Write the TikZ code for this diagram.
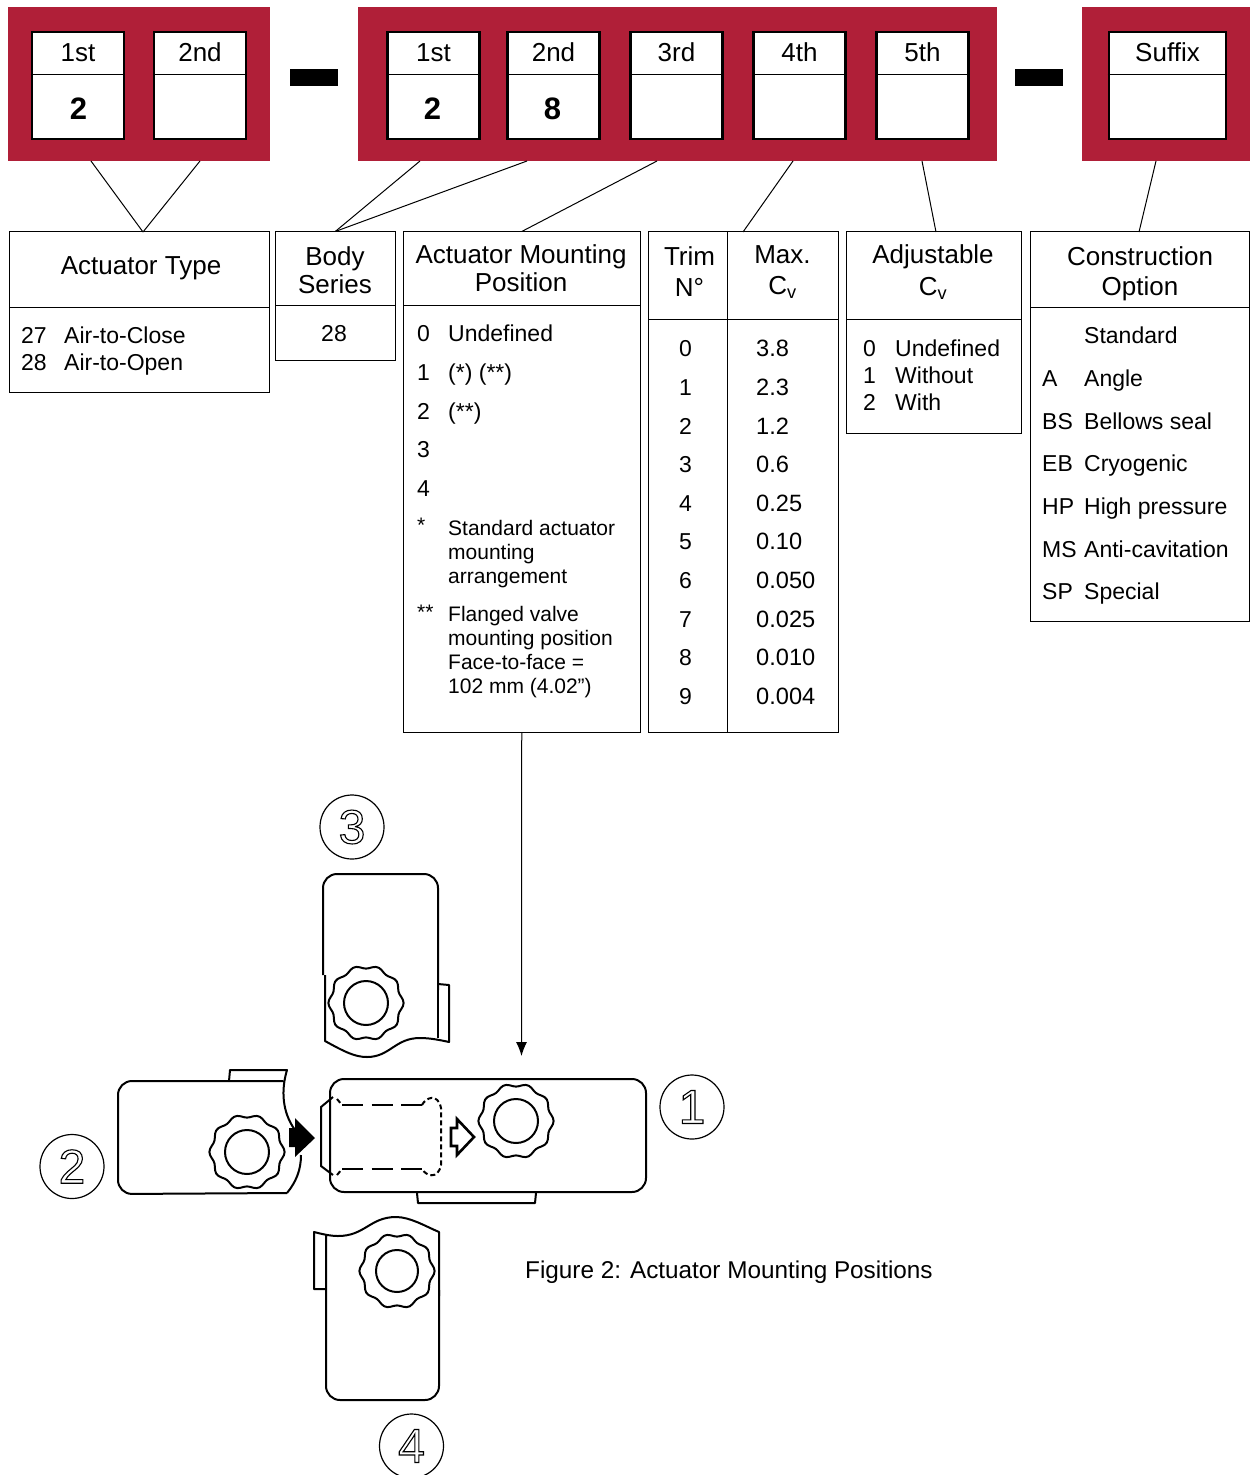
\documentclass[tikz,border=0pt]{standalone}
\usepackage{fontspec}
\setmainfont{Liberation Sans}
\usepackage{tikz}
\usetikzlibrary{arrows.meta,calc}
\definecolor{bandred}{HTML}{B01F38}
\tikzset{
    band/.style={
        fill=bandred,
        anchor=north west,
        inner sep=0pt,
        outer sep=0pt
    },
    hyphenbar/.style={
        fill=black,
        minimum width=48pt,
        minimum height=17pt,
        inner sep=0pt
    },
    digitcell/.style={
        draw,
        line width=2.8pt,
        fill=white,
        minimum height=107pt,
        inner sep=0pt
    },
    tablebox/.style={
        draw,
        line width=1pt,
        anchor=north west,
        inner sep=0pt,
        outer sep=0pt
    },
    celltext/.style={font=\fontsize{26}{30}\selectfont, inner sep=0pt, anchor=base},
    digittext/.style={font=\fontsize{31}{34}\bfseries\selectfont, inner sep=0pt, anchor=base},
    title/.style={font=\fontsize{26}{28}\selectfont, inner sep=0pt, align=center},
    rowtext/.style={font=\fontsize{23}{26}\selectfont, inner sep=0pt, anchor=base west},
    numtext/.style={font=\fontsize{23.6}{26}\selectfont, inner sep=0pt, anchor=base west},
    note/.style={font=\fontsize{21}{24}\selectfont, inner sep=0pt, anchor=north west, align=left},
    link/.style={line width=1pt},
    feed/.style={line width=1pt, -{Latex[length=14pt,width=11pt]}},
    outline/.style={line width=2pt, line join=round},
    hiddenedge/.style={line width=2pt, dash pattern=on 21pt off 8.5pt},
    callout/.style={draw, circle, line width=1.2pt, minimum size=64pt, inner sep=0pt}
}
\newcommand{\hollow}[1]{\special{pdf:code q 1 Tr 1.1 w}#1\special{pdf:code Q}}
\newcommand{\knob}[3]{
    \draw[outline, shift={(#1,#2)}] plot[domain=0:355, samples=72, smooth cycle] (\x:{36+1.6*cos(10*\x)});
    \draw[outline, shift={(#1,#2)}] (0,0) circle[radius=#3];
}
\begin{document}
\begin{tikzpicture}[x=1pt,y=-1pt]
    \useasboundingbox (0,0) rectangle (1250,1475);

    \node[band, minimum width=262pt, minimum height=154pt] (bandtype) at (8,7) {};
    \node[band, minimum width=639pt, minimum height=154pt] (bandseries) at (358,7) {};
    \node[band, minimum width=168pt, minimum height=154pt] (bandsuffix) at (1082,7) {};
    \node[hyphenbar] (dashone) at (314,77.5) {};
    \node[hyphenbar] (dashtwo) at (1039,77.5) {};

    \foreach \cname/\cx/\cw/\chead/\cval/\vx in {
        ta/78/92/1st/2/78.5, tb/200/92/2nd//200,
        sa/433.5/92/1st/2/432.5, sb/553.5/92/2nd/8/552.5, sc/676.5/92/3rd//676, sd/799.5/92/4th//800, se/922.5/92/5th//923,
        fa/1167.5/117/Suffix//1167} {
        \node[digitcell, minimum width=\cw pt] (\cname) at (\cx,85.5) {};
        \draw[line width=1pt] ([yshift=-44pt]\cname.north west) -- ([yshift=-44pt]\cname.north east);
        \node[celltext] (\cname head) at (\cx,61) {\chead};
        \node[digittext] (\cname val) at (\vx,119) {\cval};
    }

    % tables
    \node[tablebox, minimum width=259.5pt, minimum height=161pt] (acttype) at (9.5,231.5) {};
    \node[tablebox, minimum width=119.5pt, minimum height=129pt] (bodyser) at (275.5,231.5) {};
    \node[tablebox, minimum width=236.5pt, minimum height=500.5pt] (mountpos) at (403.5,231.5) {};
    \node[tablebox, minimum width=189.5pt, minimum height=500.5pt] (trimtab) at (648.5,231.5) {};
    \node[tablebox, minimum width=174.5pt, minimum height=202pt] (adjcv) at (846.5,231.5) {};
    \node[tablebox, minimum width=219pt, minimum height=390pt] (constr) at (1030,231.5) {};

    \draw[link] ([yshift=-76pt]acttype.north west) -- ([yshift=-76pt]acttype.north east);
    \draw[link] ([yshift=-74pt]bodyser.north west) -- ([yshift=-74pt]bodyser.north east);
    \draw[link] ([yshift=-74pt]mountpos.north west) -- ([yshift=-74pt]mountpos.north east);
    \draw[link] ([yshift=-88pt]trimtab.north west) -- ([yshift=-88pt]trimtab.north east);
    \draw[link] ([xshift=78.5pt]trimtab.north west) -- ([xshift=78.5pt]trimtab.south west);
    \draw[link] ([yshift=-88pt]adjcv.north west) -- ([yshift=-88pt]adjcv.north east);
    \draw[link] ([yshift=-76pt]constr.north west) -- ([yshift=-76pt]constr.north east);

    \node[title] (acttitle) at (141,268) {Actuator Type};
    \node[title] (bodytitle) at (335,270) {Body\\Series};
    \node[title] (mounttitle) at (521,268) {Actuator Mounting\\Position};
    \node[title] (trimtitle) at (689.5,272) {Trim\\[3pt]N°};
    \node[title] (cvtitle) at (782.5,272) {Max.\\[3pt]C\textsubscript{v}};
    \node[title] (adjtitle) at (933,272) {Adjustable\\[4pt]C\textsubscript{v}};
    \node[title] (contitle) at (1140,274) {Construction\\[2pt]Option};

    \foreach \rname/\ry/\rnum/\rtext in {a/343/27/Air-to-Close, b/370/28/Air-to-Open} {
        \node[rowtext] (type\rname) at (21,\ry) {\rnum};
        \node[rowtext] (type\rname text) at (64,\ry) {\rtext};
    }
    \node[rowtext, anchor=base] (body28) at (334,341) {28};

    \foreach \rname/\ry/\rtext in {0/341/Undefined, 1/380/{(*) (**)}, 2/419/{(**)}, 3/457/, 4/496/} {
        \node[rowtext] (mount\rname) at (417,\ry) {\rname};
        \node[rowtext] (mount\rname text) at (448,\ry) {\rtext};
    }
    \node[note] (starone) at (417,518) {*};
    \node[note] (noteone) at (448,520) {Standard actuator\\mounting\\arrangement};
    \node[note] (startwo) at (417,605) {**};
    \node[note] (notetwo) at (448,606) {Flanged valve\\mounting position\\Face-to-face =\\102 mm (4.02")};

    \foreach \rnum/\ry/\rval in {0/356/3.8, 1/395/2.3, 2/434/1.2, 3/472/0.6, 4/511/0.25,
        5/549/0.10, 6/588/0.050, 7/627/0.025, 8/665/0.010, 9/704/0.004} {
        \node[rowtext] (trim\rnum) at (679,\ry) {\rnum};
        \node[numtext] (max\rnum) at (756,\ry) {\rval};
    }

    \foreach \rnum/\ry/\rtext in {0/356/Undefined, 1/383/Without, 2/410/With} {
        \node[rowtext] (adj\rnum) at (863,\ry) {\rnum};
        \node[rowtext] (adj\rnum text) at (895,\ry) {\rtext};
    }

    \foreach \rname/\rcode/\ry/\rtext in {st//343/Standard, an/A/386/Angle, bs/BS/429/Bellows seal,
        eb/EB/471/Cryogenic, hp/HP/514/High pressure, ms/MS/557/Anti-cavitation, sp/SP/599/Special} {
        \node[rowtext] (con\rname) at (1042,\ry) {\rcode};
        \node[rowtext] (con\rname text) at (1084,\ry) {\rtext};
    }

    \coordinate (tapa) at (91,161);
    \coordinate (tapb) at (200,161);
    \coordinate (tapc) at (420,161);
    \coordinate (tapd) at (527,161);
    \coordinate (tape) at (657,161);
    \coordinate (tapf) at (793,161);
    \coordinate (tapg) at (922,161);
    \coordinate (taph) at (1156,161);
    \coordinate (acttop) at (143,232);
    \coordinate (trimtop) at (743,232);
    \coordinate (adjtop) at (936,232);
    \coordinate (contop) at (1139,232);
    \coordinate (arrowend) at (521.5,1056);

    \draw[link] (tapa) -- (acttop);
    \draw[link] (tapb) -- (acttop);
    \draw[link] (tapc) -- (bodyser.north);
    \draw[link] (tapd) -- (bodyser.north);
    \draw[link] (tape) -- (mountpos.north);
    \draw[link] (tapf) -- (trimtop);
    \draw[link] (tapg) -- (adjtop);
    \draw[link] (taph) -- (contop);
    \draw[feed] (mountpos.south) -- (arrowend);

    % position 1
    \draw[outline, rounded corners=14pt] (330,1079) rectangle (646,1192);
    \draw[outline] (417,1193) -- (418,1203) -- (535,1203) -- (536,1193);
    \knob{516}{1121}{22}
    \draw[outline] (333,1097) -- (321,1107) -- (321,1166) -- (333,1175);
    \draw[hiddenedge] (342,1105) -- (422,1105);
    \draw[hiddenedge] (342,1169) -- (422,1169);
    \draw[outline, dash pattern=on 5pt off 3pt] (337,1099) -- (342,1105);
    \draw[outline, dash pattern=on 5pt off 3pt] (337,1175) -- (342,1169);
    \draw[outline, dash pattern=on 5pt off 3pt] (422,1105) .. controls (426,1097) and (438,1093) .. (441,1108) -- (441,1165) .. controls (438,1180) and (426,1176) .. (422,1169);
    \draw[line width=2.6pt, miter limit=4] (451,1128) -- (457,1128) -- (457,1119) -- (474,1137) -- (457,1155) -- (457,1146) -- (451,1146) -- cycle;

    % position 2
    \draw[outline, rounded corners=14pt] (229,1081) -- (118,1081) -- (118,1194) -- (287,1193);
    \draw[outline] (283,1081) -- (229,1081) -- (230,1070) -- (287,1070) .. controls (281,1090) and (282,1112) .. (295,1130);
    \draw[outline] (301,1155) .. controls (301,1170) and (296,1182) .. (287,1193);
    \knob{247}{1152}{22}
    \fill (289,1128) -- (295,1128) -- (295,1118) -- (315,1138) -- (295,1157) -- (295,1147) -- (289,1147) -- cycle;

    % position 3
    \draw[outline, rounded corners=14pt] (323,975) -- (323,874) -- (438,874) -- (438,990);
    \draw[outline] (438,985) -- (438,1038);
    \draw[outline] (325,975) -- (325,1041) .. controls (345,1052) and (355,1057) .. (367,1057) .. controls (390,1057) and (395,1038) .. (420,1038) .. controls (430,1038) and (440,1040) .. (449,1042) -- (449,985) -- (438,984);
    \knob{366}{1003}{22}

    % position 4
    \draw[outline, rounded corners=14pt] (326,1289) -- (326,1400) -- (439,1400) -- (439,1290);
    \draw[outline] (439,1296) -- (439,1232) .. controls (425,1226) and (410,1217) .. (396,1217) .. controls (370,1217) and (365,1236) .. (338,1236) .. controls (330,1236) and (322,1234) .. (314,1232) -- (314,1289) -- (326,1289) -- (326,1235);
    \knob{397}{1271}{21}

    \node[callout] (markone) at (692,1107) {\fontsize{48}{50}\selectfont\hollow{1}};
    \node[callout] (marktwo) at (72,1166.5) {\fontsize{48}{50}\selectfont\hollow{2}};
    \node[callout] (markthree) at (352,827) {\fontsize{48}{50}\selectfont\hollow{3}};
    \node[callout] (markfour) at (411.5,1446) {\fontsize{48}{50}\selectfont\hollow{4}};

    \node[font=\fontsize{24.3}{28}\selectfont, inner sep=0pt, anchor=base west] (figcap) at (525,1278) {Figure 2: Actuator Mounting Positions};
\end{tikzpicture}
\end{document}
